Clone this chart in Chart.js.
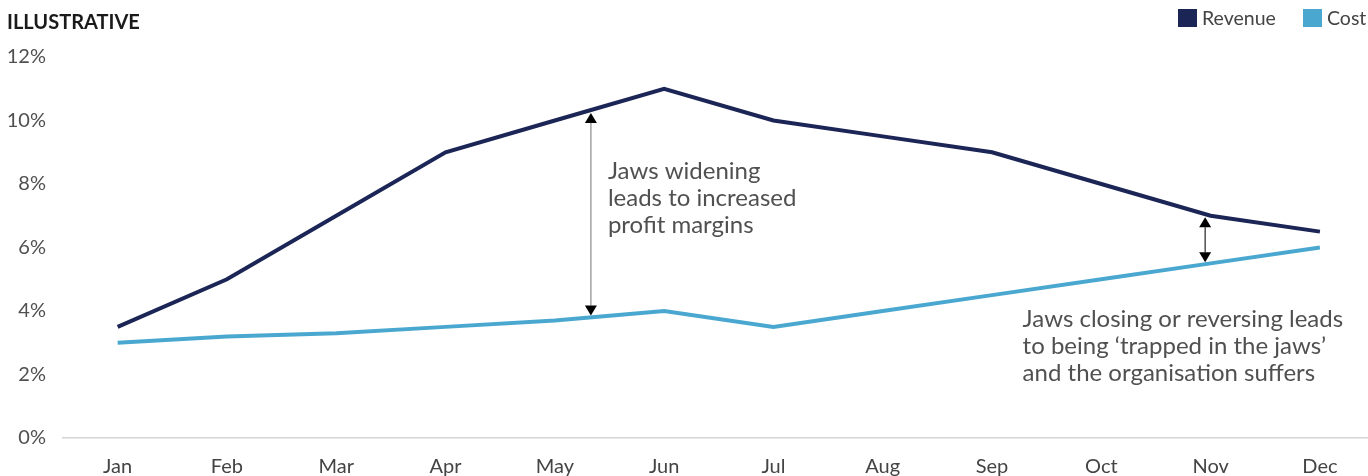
<!DOCTYPE html>
<html>
<head>
<meta charset="utf-8">
<script src="https://cdn.jsdelivr.net/npm/chart.js@4"></script>
<style>
html,body{margin:0;padding:0;background:#fff;}
#wrap{width:1368px;height:476px;position:relative;}
</style>
</head>
<body>
<div id="wrap"><canvas id="c" width="1368" height="476"></canvas></div>
<script>
const months = ['Jan','Feb','Mar','Apr','May','Jun','Jul','Aug','Sep','Oct','Nov','Dec'];
const revenue = [3.5, 5, 7, 9, 10, 11, 10, 9.5, 9, 8, 7, 6.5];
const cost = [3, 3.2, 3.3, 3.5, 3.7, 4, 3.5, 4, 4.5, 5, 5.5, 6];
const yTicks = [0, 2, 4, 6, 8, 10, 12];
const titleText = 'ILLUSTRATIVE';
const note1 = ['Jaws widening', 'leads to increased', 'profit margins'];
const note2 = ['Jaws closing or reversing leads', 'to being \u2018trapped in the jaws\u2019', 'and the organisation suffers'];

const NAVY = '#1b2556';
const BLUE = '#4aa8d0';
const TXT = '#505050';
const FONT = 'Lato, "Open Sans", sans-serif';

function interp(arr, x) {
  const i = Math.floor(x), f = x - i;
  if (i >= arr.length - 1) return arr[arr.length - 1];
  return arr[i] + (arr[i + 1] - arr[i]) * f;
}

function arrow(ctx, x, y1, y2, lineColor) {
  const h = 10, w = 6;
  ctx.save();
  ctx.strokeStyle = lineColor;
  ctx.lineWidth = 1.2;
  ctx.beginPath();
  ctx.moveTo(x, y1 + h);
  ctx.lineTo(x, y2 - h);
  ctx.stroke();
  ctx.fillStyle = '#000';
  ctx.beginPath();
  ctx.moveTo(x, y1); ctx.lineTo(x - w, y1 + h); ctx.lineTo(x + w, y1 + h); ctx.closePath(); ctx.fill();
  ctx.beginPath();
  ctx.moveTo(x, y2); ctx.lineTo(x - w, y2 - h); ctx.lineTo(x + w, y2 - h); ctx.closePath(); ctx.fill();
  ctx.restore();
}

const overlay = {
  id: 'overlay',
  afterDraw(chart) {
    const ctx = chart.ctx;
    const xs = chart.scales.x, ys = chart.scales.y;
    ctx.save();
    // title
    ctx.fillStyle = '#1a1a1a';
    ctx.font = 'bold 20px ' + FONT;
    ctx.textBaseline = 'alphabetic';
    ctx.textAlign = 'left';
    ctx.fillText(titleText, 7, 29);
    // legend
    const items = [{label: 'Revenue', color: NAVY, x: 1178}, {label: 'Cost', color: BLUE, x: 1303}];
    ctx.font = '19.5px ' + FONT;
    items.forEach(it => {
      ctx.fillStyle = it.color;
      ctx.fillRect(it.x, 9, 19, 18);
      ctx.fillStyle = '#444';
      ctx.fillText(it.label, it.x + 24, 25);
    });
    // arrows
    const a1 = 4.33;
    const ax1 = xs.getPixelForValue(a1);
    arrow(ctx, ax1, ys.getPixelForValue(interp(revenue, a1)) + 3, ys.getPixelForValue(interp(cost, a1)) - 2, '#8a8a8a');
    const a2 = 9.95;
    const ax2 = xs.getPixelForValue(a2);
    arrow(ctx, ax2, ys.getPixelForValue(interp(revenue, a2)) + 3, ys.getPixelForValue(interp(cost, a2)) - 2, '#222');
    // notes
    ctx.fillStyle = TXT;
    ctx.font = '24px ' + FONT;
    const n1x = ax1 + 17, n1y = ys.getPixelForValue(8.16);
    note1.forEach((t, i) => ctx.fillText(t, n1x, n1y + i * 27));
    const n2x = xs.getPixelForValue(8.28), n2y = ys.getPixelForValue(3.5);
    note2.forEach((t, i) => ctx.fillText(t, n2x, n2y + i * 27));
    ctx.restore();
  }
};

new Chart(document.getElementById('c'), {
  type: 'line',
  data: {
    datasets: [
      {label: 'Revenue', data: revenue.map((v, i) => ({x: i, y: v})), borderColor: NAVY, backgroundColor: NAVY, borderWidth: 4, pointRadius: 0, tension: 0},
      {label: 'Cost', data: cost.map((v, i) => ({x: i, y: v})), borderColor: BLUE, backgroundColor: BLUE, borderWidth: 4, pointRadius: 0, tension: 0}
    ]
  },
  options: {
    responsive: false,
    animation: false,
    events: [],
    layout: {padding: {top: 57, right: 0, left: 0, bottom: 0}},
    plugins: {legend: {display: false}, title: {display: false}, tooltip: {enabled: false}},
    scales: {
      x: {
        type: 'linear', min: -0.5, max: 11.44,
        afterBuildTicks: s => { s.ticks = months.map((m, i) => ({value: i})); },
        afterFit: s => { s.height = 38; },
        grid: {display: false, drawTicks: false},
        border: {display: true, color: '#d4d4d4', width: 1.5},
        ticks: {autoSkip: false, maxRotation: 0, padding: 17, color: '#444', font: {family: FONT, size: 20}, callback: v => months[v]}
      },
      y: {
        min: 0, max: 12,
        afterBuildTicks: s => { s.ticks = yTicks.map(v => ({value: v})); },
        afterFit: s => { s.width = 63; },
        grid: {display: false, drawTicks: false},
        border: {display: false},
        ticks: {padding: 17, color: '#505050', font: {family: FONT, size: 20}, callback: v => v + '%'}
      }
    }
  },
  plugins: [overlay]
});
</script>
</body>
</html>
